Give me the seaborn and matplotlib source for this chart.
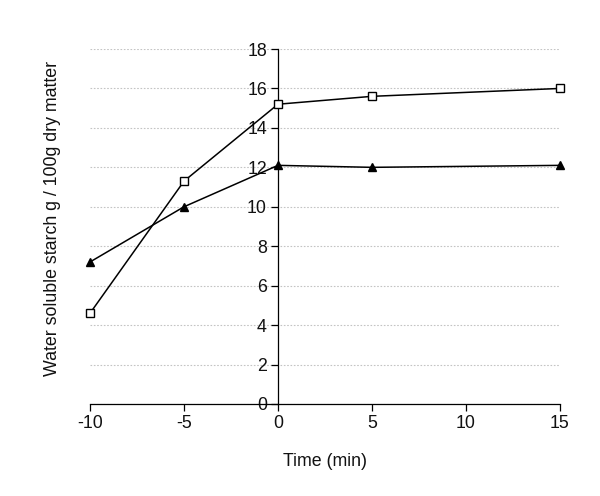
import matplotlib
matplotlib.use("Agg")
import matplotlib.pyplot as plt
import seaborn as sns
import pandas as pd

time = [-10, -5, 0, 5, 15]
square_series = [4.6, 11.3, 15.2, 15.6, 16.0]
triangle_series = [7.2, 10.0, 12.1, 12.0, 12.1]
x_ticks = [-10, -5, 0, 5, 10, 15]
y_ticks = [0, 2, 4, 6, 8, 10, 12, 14, 16, 18]

sns.set_theme(style="white")
plt.rcParams['font.family'] = ['Liberation Sans', 'DejaVu Sans']

df_sq = pd.DataFrame({"time": time, "value": square_series})
df_tr = pd.DataFrame({"time": time, "value": triangle_series})

fig = plt.figure(figsize=(6, 4.96), dpi=100)
ax = fig.add_axes([0.15, 0.1855, 0.7833, 0.7157])

sns.lineplot(data=df_sq, x="time", y="value", ax=ax, color="black", lw=1.1,
             marker="s", markersize=5.5, markerfacecolor="white",
             markeredgecolor="black", markeredgewidth=1.0, zorder=3, clip_on=False)
sns.lineplot(data=df_tr, x="time", y="value", ax=ax, color="black", lw=1.1,
             marker="^", markersize=6, markerfacecolor="black",
             markeredgecolor="black", markeredgewidth=1.0, zorder=3, clip_on=False)

ax.set_xlim(-10, 15)
ax.set_ylim(0, 18)
ax.set_xticks(x_ticks)
ax.set_yticks(y_ticks)
ax.set_xticklabels([str(t) for t in x_ticks])
ax.set_yticklabels([str(t) for t in y_ticks])

ax.spines['left'].set_position(('data', 0))
for s in ['top', 'right']:
    ax.spines[s].set_visible(False)
for s in ['left', 'bottom']:
    ax.spines[s].set_color('black')
    ax.spines[s].set_linewidth(0.9)

ax.yaxis.grid(True, linestyle=(0, (1.5, 1.5)), color='#c4c4c4', linewidth=0.8)
ax.xaxis.grid(False)
ax.set_axisbelow(True)

ax.tick_params(axis='both', which='major', direction='out', length=5,
               width=0.9, color='black', labelsize=12.8, labelcolor='#111111', pad=3,
               left=True, bottom=True)

ax.set_xlabel("Time (min)", fontsize=12.8, color='#111111', labelpad=15)
ax.set_ylabel("")
fig.text(0.087, 0.56, "Water soluble starch g / 100g dry matter", rotation=90,
         fontsize=12.8, color='#111111', ha='center', va='center')

fig.savefig("out.png", dpi=100)
